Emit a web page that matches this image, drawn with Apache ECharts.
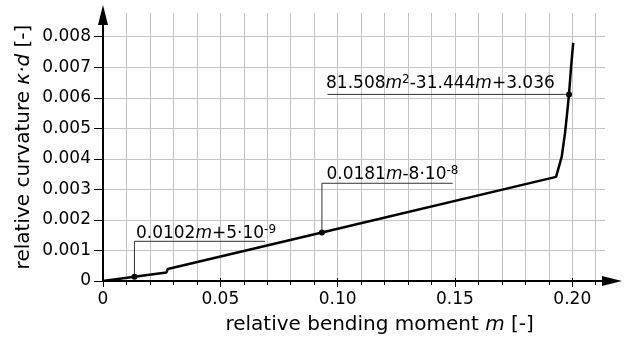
<!DOCTYPE html>
<html>
<head>
<meta charset="utf-8">
<script src="https://cdn.jsdelivr.net/npm/echarts@6/dist/echarts.min.js"></script>
<style>
    html, body { margin: 0; padding: 0; background: #fff; }
    #chart { width: 624px; height: 340px; }
</style>
</head>
<body>
<div id="chart"></div>
<script>
(function () {
    'use strict';

    // curve: relative moment m / relative curvature k*d
    var curveM = [0, 0.0134, 0.0270, 0.0276, 0.0933, 0.1931, 0.1939, 0.1955, 0.1969, 0.1978, 0.1986, 0.1995, 0.2004];
    var curveK = [0, 0.000137, 0.000275, 0.00039, 0.00159, 0.00341, 0.00363, 0.00407, 0.00484, 0.00549, 0.00611, 0.00702, 0.00780];

    // marked points and their notes
    var pointM = [0.0134, 0.0933, 0.1986];
    var pointK = [0.000137, 0.00159, 0.00611];
    var noteK = [0.0013, 0.0032, 0.00611];
    var noteM = [0.069, 0.149, 0.0957];
    var noteText = [
        '{n|0.0102}{i|m}{n|+5·10}{s|-9}',
        '{n|0.0181}{i|m}{n|-8·10}{s|-8}',
        '{n|81.508}{i|m}{s|2}{n|-31.444}{i|m}{n|+3.036}'
    ];

    var xTickLabels = ['0', '0.05', '0.10', '0.15', '0.20'];
    var yTickLabels = ['0', '0.001', '0.002', '0.003', '0.004', '0.005', '0.006', '0.007', '0.008'];

    // layout: pixels per unit and origin
    var PX = 2346.4, PY = 30540;
    var X0 = 103, Y0 = 281;
    var FONT = 'DejaVu Sans';
    var noteShift = [[2, 3], [5, 2], [-1, 0]];

    function box(xmax, ymax) {
        return {left: X0, top: Y0 - ymax * PY, width: xmax * PX, height: ymax * PY};
    }

    var mainX = (612 - X0) / PX, mainY = (Y0 - 15) / PY;
    var hX = (605 - X0) / PX, vY = (Y0 - 13) / PY;

    var rich = {
        n: {fontFamily: FONT, fontSize: 17, lineHeight: 20, color: '#000'},
        i: {fontFamily: FONT, fontSize: 17, lineHeight: 20, fontStyle: 'italic', color: '#000'},
        s: {fontFamily: FONT, fontSize: 12, lineHeight: 12, verticalAlign: 'top', color: '#000'}
    };
    var nameRich = {
        n: {fontFamily: FONT, fontSize: 20, lineHeight: 22, color: '#000'},
        i: {fontFamily: FONT, fontSize: 20, lineHeight: 22, fontStyle: 'italic', color: '#000'}
    };

    var gridLine = {show: true, lineStyle: {color: '#c4c4c4', width: 1}};
    var none = {show: false};
    var arrowLine = {
        show: true, lineStyle: {color: '#000', width: 2},
        symbol: ['none', 'triangle'], symbolSize: [10, 20]
    };

    var chart = echarts.init(document.getElementById('chart'));

    var curve = curveM.map(function (m, i) { return [m, curveK[i]]; });
    var points = pointM.map(function (m, i) { return [m, pointK[i]]; });

    var leaders = pointM.map(function (m, i) {
        var d = i < 2
            ? [[m, pointK[i]], [m, noteK[i]], [noteM[i], noteK[i]]]
            : [[noteM[i], noteK[i]], [m, pointK[i]]];
        return {
            type: 'line', data: d, showSymbol: false, silent: true, z: 3,
            lineStyle: {color: '#333', width: 1}
        };
    });

    var notes = noteText.map(function (t, i) {
        var at = i < 2 ? [pointM[i], noteK[i]] : [noteM[i], noteK[i]];
        return {
            value: at,
            label: {
                show: true, formatter: t, rich: rich, color: '#000',
                position: noteShift[i], align: 'left', verticalAlign: 'bottom'
            }
        };
    });

    var option = {
        animation: false,
        backgroundColor: '#fff',
        grid: [box(mainX, mainY), box(hX, 0.008), box(0.21, vY), box(0.2, vY)],
        xAxis: [
            {
                gridIndex: 0, type: 'value', min: 0, max: mainX,
                axisLine: arrowLine, axisTick: none, axisLabel: none, splitLine: none
            },
            {gridIndex: 1, type: 'value', min: 0, max: hX, show: false},
            {
                gridIndex: 2, type: 'value', min: 0, max: 0.21, interval: 0.01,
                axisLine: none, axisLabel: none, splitLine: gridLine,
                axisTick: {show: true, length: 4, lineStyle: {color: '#000', width: 1}}
            },
            {
                gridIndex: 3, type: 'value', min: 0, max: 0.2, interval: 0.05,
                axisLine: none, splitLine: none,
                axisTick: {show: true, length: 9, lineStyle: {color: '#000', width: 1}},
                axisLabel: {
                    show: true, margin: 13, color: '#000', fontFamily: FONT, fontSize: 17,
                    formatter: function (v, idx) { return xTickLabels[idx]; }
                },
                name: '{n|relative bending moment }{i|m}{n| [-]}',
                nameLocation: 'middle', nameGap: 36,
                nameTextStyle: {rich: nameRich, padding: [0, 0, 0, 84]}
            }
        ],
        yAxis: [
            {
                gridIndex: 0, type: 'value', min: 0, max: mainY,
                axisLine: arrowLine, axisTick: none, axisLabel: none, splitLine: none
            },
            {
                gridIndex: 1, type: 'value', min: 0, max: 0.008, interval: 0.001,
                axisLine: none, splitLine: gridLine,
                axisTick: {show: true, length: 9, lineStyle: {color: '#000', width: 1}},
                axisLabel: {
                    show: true, margin: 12, color: '#000', fontFamily: FONT, fontSize: 17,
                    formatter: function (v, idx) { return yTickLabels[idx]; }
                }
            },
            {
                gridIndex: 2, type: 'value', min: 0, max: 1,
                axisLine: none, axisTick: none, axisLabel: none, splitLine: none,
                name: '{n|relative curvature }{i|κ·d}{n| [-]}',
                nameLocation: 'middle', nameGap: 68, nameRotate: 90,
                nameTextStyle: {rich: nameRich}
            },
            {gridIndex: 3, type: 'value', min: 0, max: 1, show: false}
        ],
        series: [
            {
                type: 'line', data: curve, showSymbol: false, silent: true, z: 4,
                lineStyle: {color: '#000', width: 2.5}
            },
            {
                type: 'scatter', data: points, symbolSize: 6, silent: true, z: 5,
                itemStyle: {color: '#000', opacity: 1}
            },
            {
                type: 'scatter', data: notes, symbolSize: 1, silent: true, z: 6,
                itemStyle: {color: 'rgba(0,0,0,0)', opacity: 1}
            }
        ].concat(leaders)
    };

    chart.setOption(option);
})();
</script>
</body>
</html>
